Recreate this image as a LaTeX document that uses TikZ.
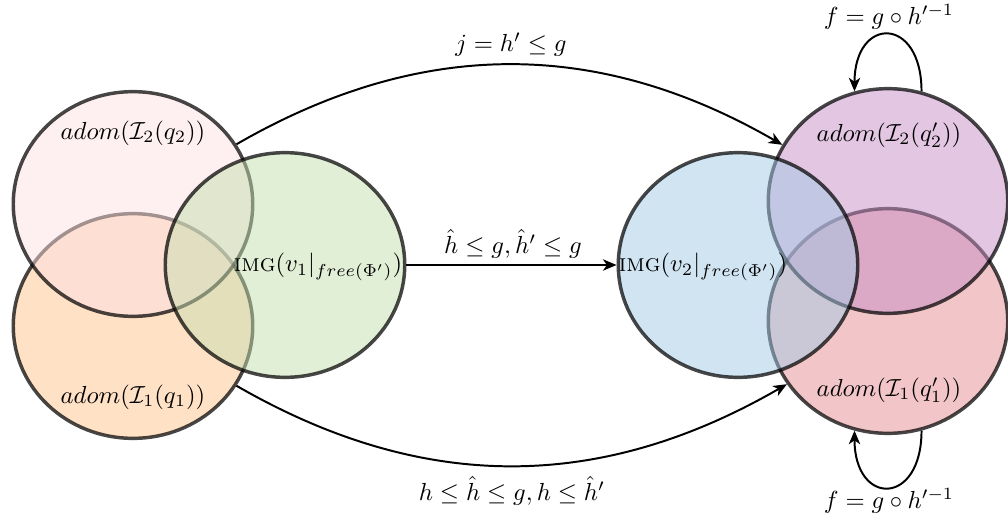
\documentclass[tikz,border=0pt]{standalone}
\usetikzlibrary{shapes.geometric,arrows.meta}
\definecolor{cPink}{RGB}{253,223,225}
\definecolor{cOrange}{RGB}{255,195,141}
\definecolor{cGreen}{RGB}{197,223,175}
\definecolor{cBlue}{RGB}{163,201,229}
\definecolor{cPurple}{RGB}{197,141,197}
\definecolor{cRed}{RGB}{229,141,145}
\begin{document}
\begin{tikzpicture}[x=0.405pt,y=-0.405pt,
  venn/.style={ellipse, draw=black, line width=1.4pt, draw opacity=0.72,
    fill opacity=0.5, minimum width=97pt, minimum height=91pt, inner sep=0pt},
  conn/.style={-{Stealth[length=5.5pt,width=4.6pt,inset=1.6pt]}, line width=0.8pt},
  lbl/.style={inner sep=0pt}]
\useasboundingbox (0,0) rectangle (1008,531);
% left group
\node[venn, fill=cOrange] (q1) at (133,326) {};
\node[venn, fill=cPink] (q2) at (133,204) {};
\node[venn, fill=cGreen] (v1) at (285,265) {};
% right group
\node[venn, fill=cRed] (r1) at (888,321) {};
\node[venn, fill=cPurple] (r2) at (888,201) {};
\node[venn, fill=cBlue] (v2) at (738,265) {};
% texts
\node[lbl] (tq2) at (133,133) {$adom(\mathcal{I}_2(q_2))$};
\node[lbl] (tq1) at (133,397) {$adom(\mathcal{I}_1(q_1))$};
\node[lbl] (tr2) at (889,135) {$adom(\mathcal{I}_2(q_2'))$};
\node[lbl] (tr1) at (889,390) {$adom(\mathcal{I}_1(q_1'))$};
\node[lbl] (tv1) at (318,267) {$\textsc{img}(v_1|_{free(\Phi')})$};
\node[lbl] (tv2) at (703,267) {$\textsc{img}(v_2|_{free(\Phi')})$};
% connectors
\draw[conn] (q2.30) to[out=30,in=150] (r2.152);
\draw[conn] (v1.east) -- (v2.west);
\draw[conn] (q1.-30) to[out=-30,in=-150] (r1.-148);
\draw[conn] (r2.73) to[out=90,in=90,looseness=2.9] (r2.107);
\draw[conn] (r1.-73) to[out=-90,in=-90,looseness=2.9] (r1.-107);
% connector labels
\node[lbl] (ltop) at (511,45) {$j = h' \leq g$};
\node[lbl] (lmid) at (513,244) {$\hat{h} \leq g, \hat{h}' \leq g$};
\node[lbl] (lbot) at (512,491) {$h \leq \hat{h} \leq g, h \leq \hat{h}'$};
\node[lbl] (fl1) at (889,17) {$f = g \circ h'^{-1}$};
\node[lbl] (fl2) at (889,501) {$f = g \circ h'^{-1}$};
\end{tikzpicture}
\end{document}
